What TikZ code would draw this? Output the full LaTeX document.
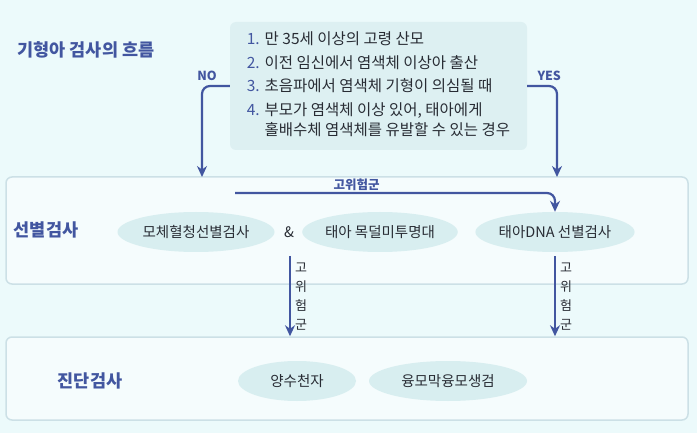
\documentclass[tikz,border=0pt]{standalone}
\usepackage{fontspec}
\setmainfont{Noto Sans CJK KR}
\usetikzlibrary{arrows.meta,positioning,shapes.geometric}
\definecolor{bgcyan}{RGB}{236,250,251}
\definecolor{navy}{RGB}{66,86,160}
\definecolor{panel}{RGB}{221,240,242}
\definecolor{frame}{RGB}{204,224,230}
\definecolor{blob}{RGB}{216,238,240}
\definecolor{ink}{RGB}{40,44,52}

\begin{document}
\begin{tikzpicture}[x=1pt,y=-1pt,stage/.style={draw=frame,line width=1.5pt,rounded corners=6pt,fill=bgcyan!50!white,minimum width=682pt},heading/.style={font=\bfseries\fontsize{17.5}{20}\selectfont,text=navy},test/.style={ellipse,fill=blob,inner sep=0pt,minimum height=40pt,font=\fontsize{14.5}{16}\selectfont,text=ink},arrow/.style={-{Stealth[length=11pt,width=10pt]},line width=2.2pt,draw=navy,rounded corners=8pt},answer/.style={font=\bfseries\fontsize{12.5}{14}\selectfont,text=navy},side/.style={font=\fontsize{13}{19}\selectfont,text=ink,align=center,inner sep=1pt}]
\fill[bgcyan] (0,0) rectangle (697,433);
\node[heading] (title) at (86,50) {기형아 검사의 흐름};
\node[fill=panel,rounded corners=6pt,minimum width=297pt,minimum height=128pt,font=\fontsize{15.5}{18}\selectfont,text=ink] (crit) at (378.5,86) {\begin{tabular}{@{}l@{\hspace{5pt}}l@{}}\textcolor{navy}{1.} & 만 35세 이상의 고령 산모\\[5.5pt]\textcolor{navy}{2.} & 이전 임신에서 염색체 이상아 출산\\[5.5pt]\textcolor{navy}{3.} & 초음파에서 염색체 기형이 의심될 때\\[5.5pt]\textcolor{navy}{4.} & 부모가 염색체 이상 있어, 태아에게\\[1pt] & 홀배수체 염색체를 유발할 수 있는 경우\end{tabular}};
\node[stage,minimum height=107pt] (screen) at (347,230.5) {};
\node[stage,minimum height=83pt] (diag) at (347,378.5) {};
\node[heading] (screenlbl) at (46,230) {선별검사};
\node[heading] (diaglbl) at (90,381) {진단검사};
\node[test,minimum width=157pt] (serum) at (196,232) {모체혈청선별검사};
\node[text=ink,font=\fontsize{14.5}{16}\selectfont] (amp) at (289,232) {\&};
\node[test,minimum width=152pt] (nt) at (380,232) {태아 목덜미투명대};
\node[test,minimum width=158pt] (dna) at (555,232) {태아DNA 선별검사};
\node[test,minimum width=118pt] (amnio) at (297,381) {양수천자};
\node[test,minimum width=158pt] (cvs) at (448,381) {융모막융모생검};
\coordinate (nodrop) at (202,177);
\coordinate (yesdrop) at (557,177);
\coordinate (hrstart) at (235,193);
\coordinate (lowA) at (290,256);
\draw[arrow] (crit.west) -| node[pos=.41,above=1pt,answer] (no) {NO} (nodrop);
\draw[arrow] (crit.east) -| node[pos=.37,above=1pt,answer] (yes) {YES} (yesdrop);
\draw[arrow] (hrstart) -| node[pos=.19,above=-2pt,answer] (hrtop) {고위험군} (dna.north);
\draw[arrow] (lowA) -- node[side,right=3pt] (hrleft) {고\\위\\험\\군} (lowA |- diag.north);
\draw[arrow] ([yshift=-4pt]dna.south) -- node[side,right=3pt] (hrright) {고\\위\\험\\군} (dna.south |- diag.north);
\end{tikzpicture}
\end{document}
